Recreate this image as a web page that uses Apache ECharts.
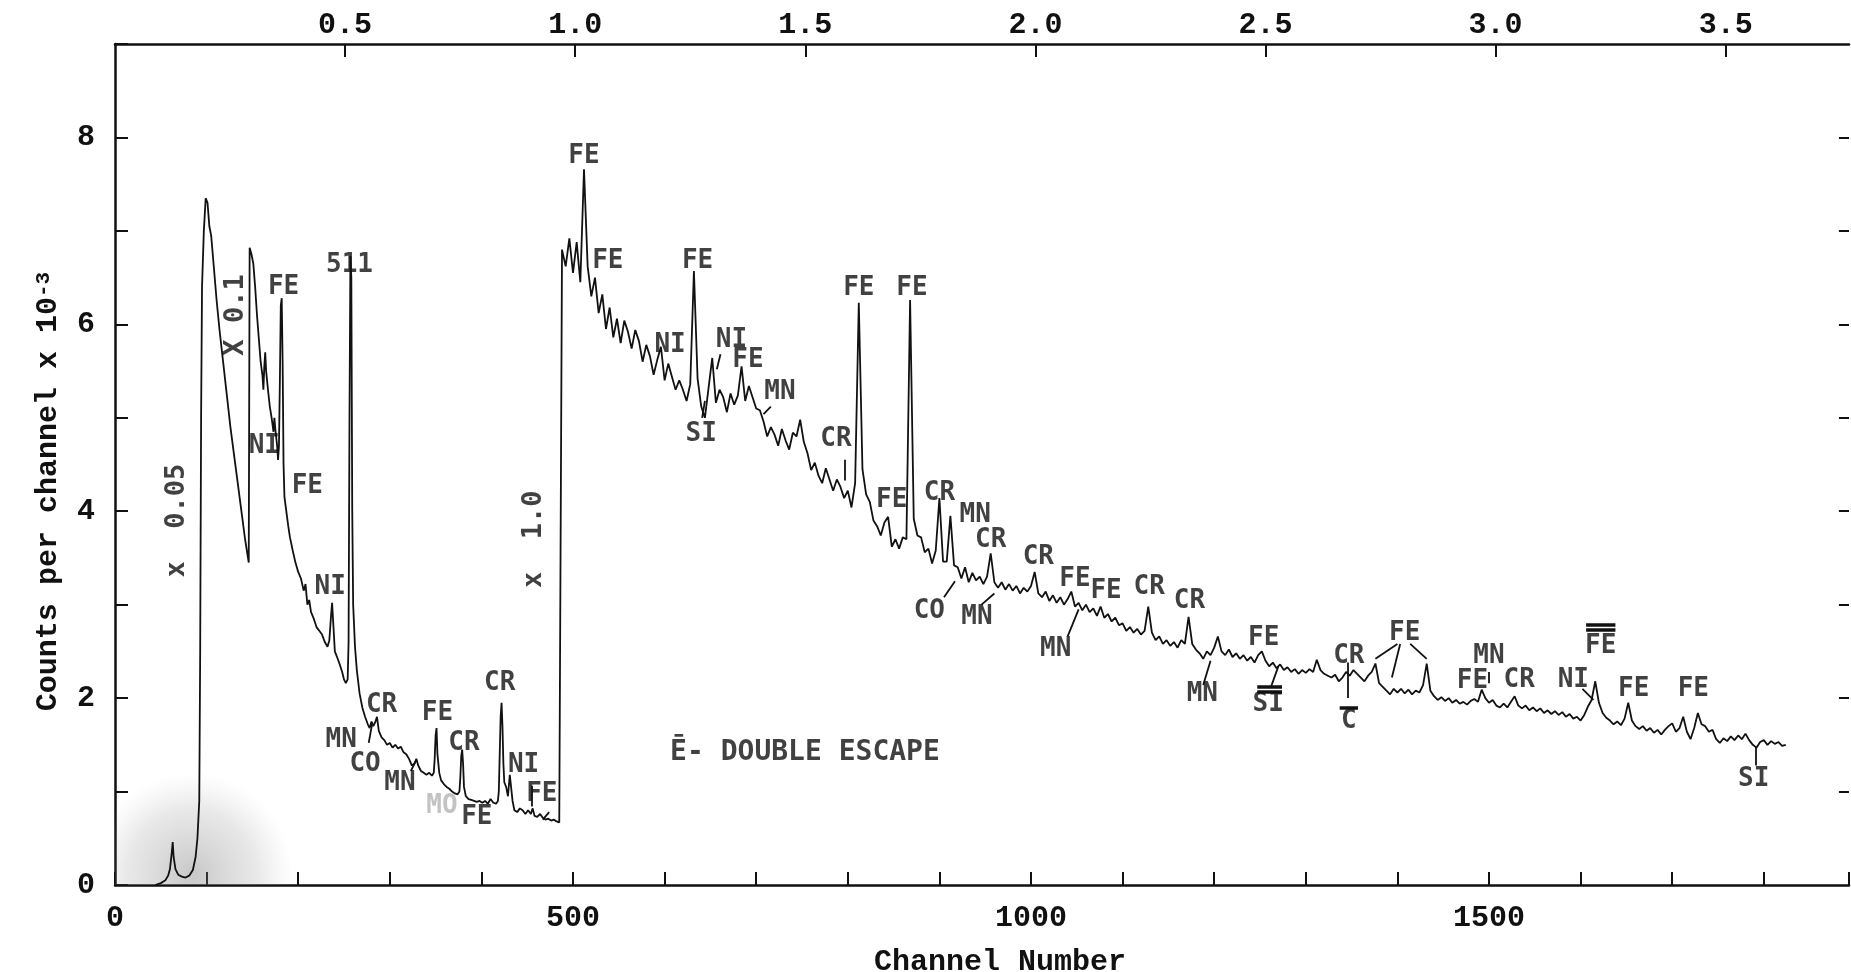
<!DOCTYPE html>
<html>
<head>
<meta charset="utf-8">
<title>Channel spectrum</title>
<script src="https://cdn.jsdelivr.net/npm/echarts@6/dist/echarts.min.js"></script>
<style>
  html, body { margin: 0; padding: 0; background: #fff; }
  #chart { width: 1851px; height: 972px; }
</style>
</head>
<body>
<div id="chart"></div>
<script>
// counts per channel x 10^-3, section recorded at x 0.05  [channel, counts]
const lowGain = [
  [44, 0], [50, 0.02], [55, 0.05], [58, 0.1], [60, 0.17], [62, 0.35], [63, 0.46], [64, 0.3],
  [66, 0.17], [69, 0.11], [73, 0.09], [77, 0.08], [81, 0.1], [85, 0.16], [88, 0.3], [90, 0.5],
  [92, 0.9], [93, 2.5], [94, 5.0], [95, 6.4], [97, 7.0], [99, 7.35], [101, 7.3], [103, 7.05],
  [105, 6.95], [108, 6.6], [111, 6.25], [114, 5.95], [118, 5.6], [122, 5.25], [126, 4.9],
  [130, 4.6], [134, 4.3], [138, 4.0], [142, 3.7], [146, 3.45]
]

// section recorded at x 0.1
const midGain = [
  [147, 6.82], [149, 6.75], [151, 6.65], [153, 6.4], [155, 6.1], [157, 5.85], [159, 5.6], [161, 5.45],
  [162, 5.3], [163, 5.55], [164, 5.7], [165, 5.5], [167, 5.3], [169, 5.12], [171, 5.0], [173, 4.85],
  [174, 5.0], [175, 4.88], [177, 4.7], [178, 4.55], [179, 4.7], [180, 5.4], [181, 6.2], [182, 6.28],
  [183, 5.6], [184, 4.5], [185, 4.15], [187, 4.0], [189, 3.85], [191, 3.72], [194, 3.58], [197, 3.45],
  [200, 3.35], [203, 3.28], [206, 3.15], [208, 3.22], [210, 3.0], [212, 3.05], [214, 2.92], [217, 2.85],
  [220, 2.76], [223, 2.72], [226, 2.68], [229, 2.6], [232, 2.55], [234, 2.62], [236, 2.9], [237, 3.02],
  [238, 2.85], [240, 2.5], [242, 2.45], [245, 2.37], [248, 2.28], [250, 2.2], [252, 2.16], [254, 2.2],
  [255, 2.6], [256, 5.0], [257, 6.73], [258, 6.5], [259, 4.0], [260, 3.0], [262, 2.55], [264, 2.3],
  [267, 2.05], [270, 1.9], [273, 1.8], [276, 1.72], [278, 1.68], [280, 1.75], [282, 1.7], [284, 1.74],
  [286, 1.8], [288, 1.65], [291, 1.58], [294, 1.55], [297, 1.5], [300, 1.52], [303, 1.47], [306, 1.5],
  [309, 1.46], [312, 1.48], [315, 1.42], [318, 1.4], [321, 1.35], [324, 1.28], [327, 1.3], [329, 1.35],
  [331, 1.28], [334, 1.22], [337, 1.2], [340, 1.18], [343, 1.2], [346, 1.17], [348, 1.2], [349, 1.35],
  [350, 1.6], [351, 1.68], [352, 1.4], [354, 1.2], [356, 1.12], [359, 1.08], [362, 1.05], [365, 1.03],
  [368, 1.0], [371, 0.98], [374, 0.97], [376, 1.0], [377, 1.15], [378, 1.38], [379, 1.45], [380, 1.3],
  [381, 1.05], [383, 0.95], [386, 0.92], [389, 0.91], [392, 0.9], [395, 0.89], [398, 0.9], [401, 0.88],
  [404, 0.9], [407, 0.87], [410, 0.92], [413, 0.88], [416, 0.87], [418, 0.9], [419, 1.0], [420, 1.4],
  [421, 1.8], [422, 1.95], [423, 1.7], [424, 1.3], [425, 1.1], [427, 1.05], [429, 0.95], [431, 1.18],
  [432, 1.2], [434, 0.9], [436, 0.8], [439, 0.78], [442, 0.82], [445, 0.8], [448, 0.76], [451, 0.8],
  [454, 0.76], [456, 0.82], [458, 0.74], [461, 0.73], [464, 0.76], [467, 0.72], [470, 0.7], [473, 0.71],
  [476, 0.69], [479, 0.7], [482, 0.68], [485, 0.67], [487, 0.68]
]

// section recorded at x 1.0, one reading every 4 channels from channel 488
const fullGainStart = 488
const fullGainStep = 4
const fullGain = [
  6.80, 6.62, 6.92, 6.55, 6.88, 6.45, 7.66, 6.62, 6.30, 6.50, 6.12, 6.32, 5.95, 6.18, 5.86, 6.06,
  5.80, 6.04, 5.92, 5.74, 5.94, 5.82, 5.60, 5.78, 5.66, 5.46, 5.62, 5.76, 5.40, 5.58, 5.44, 5.30,
  5.40, 5.30, 5.18, 5.36, 6.57, 5.42, 5.12, 5.00, 5.32, 5.64, 5.16, 5.30, 5.22, 5.06, 5.26, 5.14,
  5.24, 5.55, 5.18, 5.34, 5.22, 5.10, 5.08, 4.96, 4.80, 4.90, 4.82, 4.70, 4.88, 4.76, 4.66, 4.84,
  4.80, 4.98, 4.74, 4.62, 4.44, 4.52, 4.38, 4.30, 4.46, 4.34, 4.22, 4.34, 4.26, 4.14, 4.22, 4.04,
  4.30, 6.23, 4.45, 4.18, 4.10, 3.90, 3.84, 3.74, 3.88, 3.94, 3.62, 3.70, 3.60, 3.72, 3.70, 6.26,
  3.92, 3.74, 3.72, 3.56, 3.60, 3.44, 3.58, 4.14, 3.46, 3.46, 3.95, 3.42, 3.40, 3.28, 3.40, 3.24,
  3.34, 3.26, 3.30, 3.22, 3.30, 3.55, 3.24, 3.18, 3.24, 3.16, 3.22, 3.15, 3.20, 3.12, 3.18, 3.14,
  3.20, 3.35, 3.12, 3.08, 3.14, 3.04, 3.10, 3.02, 3.08, 3.00, 3.06, 3.14, 2.98, 3.02, 2.94, 3.00,
  2.92, 2.96, 2.88, 2.98, 2.86, 2.90, 2.82, 2.86, 2.78, 2.80, 2.72, 2.76, 2.70, 2.74, 2.68, 2.72,
  2.98, 2.70, 2.62, 2.66, 2.58, 2.62, 2.56, 2.60, 2.54, 2.62, 2.58, 2.87, 2.58, 2.52, 2.48, 2.42,
  2.50, 2.46, 2.54, 2.66, 2.50, 2.46, 2.52, 2.44, 2.48, 2.42, 2.46, 2.40, 2.44, 2.38, 2.46, 2.50,
  2.40, 2.34, 2.38, 2.32, 2.36, 2.30, 2.33, 2.28, 2.31, 2.26, 2.30, 2.27, 2.31, 2.28, 2.41, 2.30,
  2.26, 2.24, 2.22, 2.25, 2.18, 2.22, 2.28, 2.24, 2.30, 2.26, 2.22, 2.18, 2.24, 2.28, 2.37, 2.16,
  2.12, 2.08, 2.04, 2.10, 2.06, 2.10, 2.05, 2.09, 2.04, 2.08, 2.06, 2.14, 2.37, 2.08, 2.02, 1.98,
  2.01, 1.97, 2.00, 1.95, 1.98, 1.94, 1.96, 1.93, 1.97, 1.99, 1.96, 2.09, 2.00, 1.95, 1.98, 1.92,
  1.90, 1.94, 1.90, 1.96, 2.02, 1.92, 1.89, 1.92, 1.87, 1.90, 1.86, 1.89, 1.84, 1.87, 1.83, 1.86,
  1.82, 1.85, 1.80, 1.83, 1.78, 1.80, 1.76, 1.82, 1.91, 1.98, 2.18, 1.95, 1.84, 1.79, 1.76, 1.72,
  1.75, 1.71, 1.78, 1.95, 1.76, 1.70, 1.67, 1.70, 1.65, 1.68, 1.63, 1.66, 1.61, 1.66, 1.70, 1.73,
  1.64, 1.68, 1.80, 1.64, 1.56, 1.68, 1.84, 1.72, 1.70, 1.64, 1.66, 1.56, 1.52, 1.57, 1.54, 1.59,
  1.55, 1.60, 1.56, 1.62, 1.55, 1.50, 1.47, 1.53, 1.55, 1.50, 1.54, 1.51, 1.53, 1.49, 1.50
]

// peak identifications [channel, counts, text]
const peakLabels = [
  [184, 6.4, 'FE'], [163, 4.7, 'NI'], [210, 4.27, 'FE'], [235, 3.19, 'NI'], [256, 6.63, '511'],
  [291, 1.92, 'CR'], [247, 1.55, 'MN'], [273, 1.29, 'CO'], [311, 1.09, 'MN'], [352, 1.84, 'FE'],
  [381, 1.52, 'CR'], [420, 2.16, 'CR'], [446, 1.28, 'NI'], [466, 0.97, 'FE'], [395, 0.73, 'FE'],
  [512, 7.8, 'FE'], [538, 6.67, 'FE'], [636, 6.67, 'FE'], [606, 5.78, 'NI'], [673, 5.83, 'NI'],
  [691, 5.62, 'FE'], [640, 4.82, 'SI'], [726, 5.27, 'MN'], [787, 4.77, 'CR'], [812, 6.39, 'FE'],
  [870, 6.39, 'FE'], [848, 4.12, 'FE'], [900, 4.19, 'CR'], [939, 3.96, 'MN'], [956, 3.69, 'CR'],
  [889, 2.93, 'CO'], [941, 2.87, 'MN'], [1008, 3.51, 'CR'], [1048, 3.27, 'FE'], [1082, 3.14, 'FE'],
  [1027, 2.52, 'MN'], [1129, 3.19, 'CR'], [1173, 3.04, 'CR'], [1187, 2.04, 'MN'], [1254, 2.64, 'FE'],
  [1259, 1.93, 'SI'], [1347, 2.45, 'CR'], [1347, 1.75, 'C'], [1408, 2.69, 'FE'], [1500, 2.45, 'MN'],
  [1482, 2.18, 'FE'], [1533, 2.19, 'CR'], [1592, 2.19, 'NI'], [1622, 2.55, 'FE'], [1658, 2.1, 'FE'],
  [1723, 2.1, 'FE'], [1789, 1.13, 'SI']
]

// faint pencilled label
const fadedLabels = [[357, 0.84, 'MO']]

// amplifier gain of each section, written vertically
const gainLabels = [[68, 3.9, 'x  0.05'], [132, 6.1, 'X 0.1'], [457, 3.7, 'x  1.0']]

const noteLabels = [[606, 1.42, 'Ē- DOUBLE ESCAPE']]

// pointer strokes from labels to peaks
const leaders = [
  [[277, 1.52], [281, 1.74]], [[323, 1.22], [328, 1.32]], [[455, 0.84], [455, 1.06]],
  [[467, 0.7], [474, 0.78]], [[641, 5.0], [644, 5.18]], [[657, 5.52], [661, 5.68]],
  [[708, 5.04], [716, 5.12]], [[797, 4.33], [797, 4.55]], [[905, 3.08], [917, 3.25]],
  [[946, 3.0], [960, 3.12]], [[1040, 2.66], [1052, 2.95]], [[1188, 2.14], [1196, 2.4]],
  [[1262, 2.12], [1270, 2.34]], [[1346, 2.0], [1346, 2.38]], [[1400, 2.58], [1376, 2.42]],
  [[1403, 2.58], [1394, 2.22]], [[1414, 2.58], [1432, 2.42]], [[1500, 2.16], [1500, 2.28]],
  [[1602, 2.1], [1614, 1.98]], [[1791, 1.28], [1791, 1.48]]
]

// bars marking double escape peaks
const escapeBars = [
  [[1247, 2.12], [1274, 2.12]], [[1247, 2.07], [1274, 2.07]], [[1337, 1.9], [1357, 1.9]],
  [[1606, 2.78], [1638, 2.78]], [[1606, 2.73], [1638, 2.73]]
]

// short ticks along the right edge of the frame
const rightTicks = [1, 2, 3, 4, 5, 6, 7, 8]

// channel range and energy calibration of the top scale (MeV)
const channelMax = 1893
const energyMax = 3.768

const trace = lowGain.concat(midGain, fullGain.map((v, i) => [fullGainStart + i * fullGainStep, v]))

const mono = 'Liberation Mono'
const lettering = 'DejaVu Sans Mono'
const ink = '#111'

const textSeries = (name, data, extra) => ({
  name: name,
  type: 'scatter',
  data: data,
  symbolSize: 0,
  silent: true,
  z: 5,
  label: Object.assign({
    show: true,
    position: [0, 0],
    align: 'center',
    verticalAlign: 'middle',
    fontFamily: lettering,
    fontSize: 26,
    fontWeight: 'bold',
    color: ink,
    formatter: p => p.value[2]
  }, extra)
})

const chart = echarts.init(document.getElementById('chart'))
chart.setOption({
  animation: false,
  backgroundColor: '#fff',
  grid: { left: 115, right: 2, top: 44, bottom: 87, outerBoundsMode: 'none', containLabel: false },
  xAxis: [
    {
      type: 'value',
      min: 0,
      max: channelMax,
      interval: 100,
      position: 'bottom',
      name: 'Channel Number',
      nameLocation: 'middle',
      nameGap: 62,
      nameTextStyle: { fontFamily: mono, fontSize: 30, fontWeight: 'bold', color: ink, padding: [0, 0, 0, 36] },
      axisLine: { onZero: false, lineStyle: { color: ink, width: 2.5 } },
      axisTick: { inside: true, length: 13, lineStyle: { color: ink, width: 2 } },
      axisLabel: {
        fontFamily: mono, fontSize: 30, fontWeight: 'bold', color: ink, margin: 18,
        formatter: v => (v % 500 === 0 ? String(v) : '')
      },
      splitLine: { show: false }
    },
    {
      type: 'value',
      min: 0,
      max: energyMax,
      interval: 0.5,
      position: 'top',
      axisLine: { onZero: false, lineStyle: { color: ink, width: 2.5 } },
      axisTick: { inside: true, length: 13, lineStyle: { color: ink, width: 2 } },
      axisLabel: {
        fontFamily: mono, fontSize: 30, fontWeight: 'bold', color: ink, margin: 4,
        showMinLabel: false, showMaxLabel: false,
        formatter: v => (v > 0 && Math.abs(v * 2 - Math.round(v * 2)) < 1e-6 ? v.toFixed(1) : '')
      },
      splitLine: { show: false }
    }
  ],
  yAxis: {
    type: 'value',
    min: 0,
    max: 9,
    interval: 1,
    position: 'left',
    name: 'Counts per channel x 10{sup|-3}   ',
    nameLocation: 'middle',
    nameGap: 52,
    nameTextStyle: {
      fontFamily: mono, fontSize: 30, fontWeight: 'bold', color: ink,
      rich: { sup: { fontFamily: mono, fontSize: 21, fontWeight: 'bold', color: ink, verticalAlign: 'top', lineHeight: 30 } }
    },
    axisLine: { onZero: false, lineStyle: { color: ink, width: 2.5 } },
    axisTick: { inside: true, length: 13, lineStyle: { color: ink, width: 2 } },
    axisLabel: {
      fontFamily: mono, fontSize: 30, fontWeight: 'bold', color: ink, margin: 20,
      formatter: v => (v % 2 === 0 && v < 9 ? String(v) : '')
    },
    splitLine: { show: false }
  },
  series: [
    {
      name: 'counts',
      type: 'line',
      data: trace,
      showSymbol: false,
      silent: true,
      z: 4,
      lineStyle: { color: ink, width: 1.8 },
      markArea: {
        silent: true,
        data: [
          [
            {
              xAxis: 0, yAxis: 0,
              itemStyle: {
                color: {
                  type: 'radial', x: 0.42, y: 0.95, r: 1,
                  colorStops: [
                    { offset: 0, color: 'rgba(110,110,110,0.38)' },
                    { offset: 0.35, color: 'rgba(140,140,140,0.2)' },
                    { offset: 0.55, color: 'rgba(170,170,170,0)' }
                  ]
                }
              }
            },
            { xAxis: 200, yAxis: 2.4 }
          ]
        ]
      }
    },
    textSeries('peaks', peakLabels),
    textSeries('faded', fadedLabels, { color: '#b4b4b4' }),
    textSeries('gain', gainLabels, { rotate: 90, fontSize: 27 }),
    textSeries('note', noteLabels, { align: 'left', fontSize: 28 }),
    {
      name: 'leaders',
      type: 'lines',
      coordinateSystem: 'cartesian2d',
      silent: true,
      z: 5,
      lineStyle: { color: ink, width: 1.8, opacity: 1 },
      data: leaders.map(c => ({ coords: c }))
    },
    {
      name: 'bars',
      type: 'lines',
      coordinateSystem: 'cartesian2d',
      silent: true,
      z: 5,
      lineStyle: { color: ink, width: 3.5, opacity: 1 },
      data: escapeBars.map(c => ({ coords: c }))
    },
    {
      name: 'right ticks',
      type: 'lines',
      coordinateSystem: 'cartesian2d',
      silent: true,
      z: 5,
      lineStyle: { color: ink, width: 2, opacity: 1 },
      data: rightTicks.map(v => ({ coords: [[channelMax - 11, v], [channelMax, v]] }))
    }
  ]
})
</script>
</body>
</html>
